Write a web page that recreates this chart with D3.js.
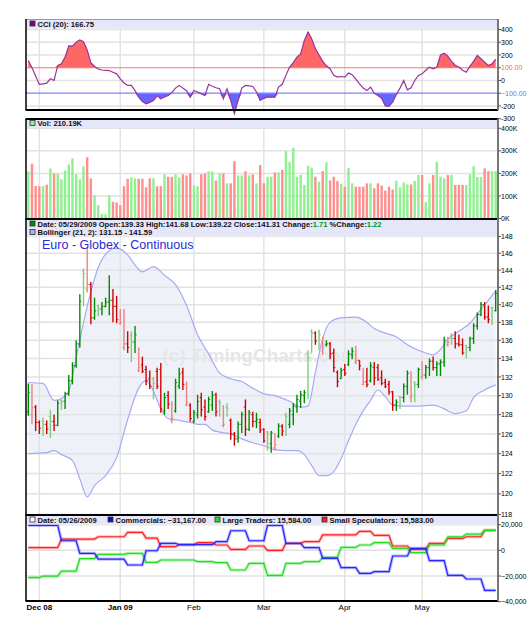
<!DOCTYPE html>
<html>
<head>
<meta charset="utf-8">
<script src="https://cdn.jsdelivr.net/npm/d3@7"></script>
<style>
body { margin: 0; background: #fff; }
svg { display: block; font-family: "Liberation Sans", Arial, sans-serif; }
</style>
</head>
<body>
<script>
// ---- data ----
var monthLabels = ['Dec 08', 'Jan 09', 'Feb', 'Mar', 'Apr', 'May'];
var monthIdx = [3, 25, 45, 64, 86, 107];
var lastDate = '05/29/2009', cotDate = '05/26/2009';

var opens = [128.3,128.0,128.8,127.2,127.3,127.0,127.8,127.3,126.9,129.5,129.4,130.2,131.6,133.2,135.6,143.9,141.8,142.3,138.5,139.9,
  139.5,139.8,140.3,140.5,139.8,137.9,135.2,135.6,136.5,135.8,132.7,133.3,132.8,131.8,131.8,132.6,132.8,128.4,130.0,127.4,
  128.4,131.0,132.5,129.0,129.0,127.3,128.0,129.8,128.8,128.3,129.0,130.1,129.4,126.9,128.8,127.4,126.0,125.5,127.0,128.8,
  126.5,128.0,127.3,127.2,126.5,126.2,125.0,124.6,125.8,126.8,128.0,127.0,128.0,128.8,129.4,130.0,134.5,137.0,136.8,136.9,
  134.8,135.5,135.6,134.6,132.5,131.8,132.8,133.3,134.4,133.6,133.8,131.2,131.5,131.6,133.0,133.0,131.9,131.4,131.2,130.4,
  129.0,129.9,129.8,131.0,129.8,131.4,131.2,132.0,132.2,133.0,133.7,133.0,133.4,133.6,135.5,136.5,136.2,135.6,135.5,135.4,
  135.2,136.2,137.6,138.9,140.0,138.6,139.65,139.33];
var highs = [131.3,131.2,129.0,127.4,127.7,127.4,128.5,128.0,129.5,129.6,130.4,132.2,133.6,136.0,141.2,144.2,146.7,142.6,140.8,140.0,
  140.3,140.8,143.4,141.8,141.0,139.5,139.5,137.0,137.0,137.6,135.2,134.2,133.2,132.7,132.0,133.0,133.5,130.3,130.5,129.4,
  131.8,133.0,133.0,131.5,129.2,128.5,130.1,130.3,129.6,129.9,130.5,130.3,129.6,129.0,129.2,127.6,126.2,127.3,128.3,129.6,
  128.5,128.3,128.2,127.6,126.6,126.3,126.3,126.1,127.1,127.0,128.2,128.7,129.2,130.1,130.5,130.6,134.9,137.2,137.0,137.2,
  136.4,136.0,135.8,135.1,132.7,133.0,133.4,134.9,135.2,135.4,133.8,133.0,133.0,133.6,133.6,133.4,132.7,131.8,131.6,130.5,
  129.6,130.0,131.3,132.7,132.6,131.5,133.0,133.7,133.3,134.0,134.2,133.7,133.9,136.4,136.4,136.8,137.0,136.6,136.2,135.5,
  136.4,137.9,139.1,140.3,140.3,139.9,139.8,141.68];
var lows = [127.9,127.0,126.3,126.0,125.8,126.0,125.6,126.3,126.8,128.5,128.6,130.0,131.2,133.0,135.2,139.8,141.4,137.8,138.3,138.7,
  138.8,139.7,138.8,138.0,137.9,137.7,134.9,134.6,133.6,134.6,132.5,132.4,131.1,130.7,129.6,130.7,128.2,128.0,128.6,127.1,
  128.2,130.7,130.6,128.9,127.3,127.1,127.6,127.8,127.4,128.2,128.4,127.8,127.8,126.7,127.8,125.4,124.8,125.1,126.1,125.8,
  126.3,126.7,126.6,126.1,125.1,124.3,124.1,124.3,125.6,125.8,125.8,126.6,126.9,128.2,128.7,129.2,129.6,134.6,135.5,134.9,
  134.4,135.3,133.9,132.5,130.9,131.8,132.1,133.2,133.9,133.4,132.7,131.1,130.9,131.4,131.1,131.6,131.1,130.8,130.1,128.4,
  128.4,128.6,129.3,130.1,129.3,129.3,130.8,131.7,131.8,132.1,132.7,132.1,132.1,133.1,135.3,135.5,135.1,135.3,134.4,134.0,
  134.8,135.6,137.2,138.7,138.3,137.9,137.7,139.22];
var closes = [130.3,128.7,127.2,126.6,127.0,126.5,127.3,126.9,129.2,129.4,130.2,131.6,133.2,135.6,140.4,143.6,142.3,138.5,139.3,139.5,
  139.8,140.3,140.5,139.8,138.3,138.0,135.6,135.2,135.8,136.6,133.0,132.6,131.6,131.0,131.3,131.0,128.6,129.8,129.1,127.6,
  131.4,132.3,131.2,129.3,127.6,128.2,129.4,128.5,127.8,129.6,130.0,128.3,129.2,127.0,128.6,126.0,125.5,127.0,128.0,126.5,
  128.2,127.3,127.5,126.4,125.3,126.0,126.1,124.9,126.8,126.3,127.8,128.4,128.9,129.6,130.1,130.3,134.0,136.8,135.9,136.6,
  135.2,135.6,134.5,133.0,131.5,132.7,132.4,134.5,134.8,133.8,133.2,131.4,131.2,133.2,131.9,131.7,131.3,131.0,130.4,129.0,
  129.3,129.8,131.0,132.4,130.0,131.2,132.8,132.2,133.0,133.7,133.0,133.4,133.6,136.0,135.8,136.2,135.6,135.5,134.6,135.2,
  136.2,137.6,138.9,140.0,138.6,138.3,139.60,141.31];

var volumes = [209,243,144,143,143,150,222,200,200,174,213,240,266,196,174,231,272,178,103,59,
  21,19,103,74,71,59,143,176,182,178,176,176,138,178,178,143,143,196,185,185,
  196,182,196,191,200,147,143,196,200,209,209,168,200,200,156,156,254,191,191,210,
  191,196,156,237,156,185,185,204,204,216,299,251,313,185,193,149,234,226,185,163,
  210,249,169,185,166,154,141,225,156,141,141,141,156,156,134,156,146,124,141,129,
  168,138,160,151,151,166,193,193,72,156,193,251,185,178,193,193,149,149,149,149,
  196,232,184,184,222,210,210,210.19];

var cci = [157,100,35,-31,-26,-21,13,0,118,131,183,272,270,301,319,305,240,140,110,90,
  82,80,78,65,52,13,-20,-39,-39,-80,-131,-165,-183,-172,-157,-120,-144,-130,-118,-95,
  -60,-39,-60,-80,-131,-78,-90,-105,-118,-30,-45,-57,-65,-144,-65,-157,-261,-157,-60,-39,
  -42,-47,-90,-157,-140,-131,-131,-131,-52,-30,40,105,140,183,209,314,379,327,250,200,
  150,115,90,40,26,31,26,58,45,10,-26,-60,-78,-52,-100,-118,-140,-200,-204,-170,
  -110,-60,0,-73,-57,0,39,52,80,105,92,105,200,214,190,150,120,105,80,65,
  110,150,196,170,144,118,130,166.75];

var bbIdx = [0,4,7,9,11,13,16,19,22,24,27,29,31,34,37,40,43,46,49,52,55,58,61,64,67,71,74,76,78,80,82,85,89,92,94,97,100,103,106,108,110,112,114,117,120,123,125,127];
var bbUpper = [131.4,131.3,129.5,129.7,130.5,134.1,139.8,144.3,146.3,146.6,145.8,144.6,143.8,144.4,143.4,142.3,139.9,136.6,134.5,132.4,131.8,131.5,130.8,130.2,130.0,129.4,128.8,128.9,132.5,136.2,138.0,138.5,138.6,138.0,137.3,136.8,136.4,135.5,134.9,134.6,134.4,135.0,136.1,137.0,137.9,139.5,140.5,141.59];
var bbLowIdx = [0,5,7,9,12,14,16,18,21,24,27,30,32,34,36,38,41,44,46,48,50,52,55,58,61,64,67,70,73,75,77,79,81,83,85,87,89,91,93,95,97,99,102,106,110,113,116,119,121,124,127];
var bbLower = [124.0,124.1,124.3,123.9,123.3,121.5,119.7,120.8,121.8,123.6,127.5,130.8,131.6,130.5,128.6,127.6,127.4,127.2,127.0,127.0,126.4,126.2,126.0,125.5,125.1,124.8,124.4,124.3,124.3,123.9,122.8,121.8,121.8,122.2,123.5,125.3,127.0,128.4,129.5,130.6,129.9,129.0,128.9,128.9,129.0,128.6,128.1,128.4,129.8,130.6,131.15];

// weekly COT report positions (bar index of each report) and values
var cotIdx = [0,4,9,14,19,23,27,32,36,41,46,51,55,60,65,70,75,80,85,90,94,99,104,109,114,119,124];
var commercials = [19500,19500,7500,-2300,-6800,-6800,-11400,-300,5500,4400,4400,6750,15300,7500,19500,5500,2100,-6200,-13500,-17900,-16600,-4400,1600,-8000,-19500,-22300,-31167];
var largeTraders = [-21300,-20000,-16100,-6500,-3100,-3100,-2300,-9300,-7500,-7500,-8800,-9600,-15300,-10100,-19500,-10100,-8800,-5500,2300,4200,6000,1600,-1800,4200,10600,12700,15584];
var smallSpecs = [2100,2100,8800,8800,10600,10600,14000,9600,2900,4400,6000,4200,800,3400,0,5500,6750,12000,12000,14800,11700,3400,800,5500,9300,10600,15583];

var cciTicks = [400, 300, 200, 100, 0, -100, -200, -300];
var volTicks = [0, 100, 200, 300, 400];
var priceTicks = d3.range(118, 149, 2);
var cotTicks = [20000, 0, -20000, -40000];

// ---- layout ----
var W = 527, H = 625;
var left = 26, right = 498;
var n = closes.length;
var upDark = '#008a00', upLight = '#7fcc7f', dnDark = '#d00000', dnLight = '#ee8080';
var bandBg = '#e6e6fa', gridC = '#e2e2e2';

var svg = d3.select('body').append('svg')
  .attr('width', W)
  .attr('height', H);

var x = d3.scaleLinear().domain([0, n - 1]).range([28.3, 495.7]);
var yCci = d3.scaleLinear().domain([-300, 400]).range([118.7, 29.5]);
var yVol = d3.scaleLinear().domain([0, 400]).range([218.5, 128.3]);
var yPx = d3.scaleLog().domain([118, 148]).range([514.5, 236.5]);
var yCot = d3.scaleLinear().domain([-40000, 20000]).range([601.7, 524.7]);

var panels = [
  {name: 'cci', top: 19, bottom: 110, head: 9.5},
  {name: 'vol', top: 119, bottom: 219, head: 9},
  {name: 'price', top: 219, bottom: 515, head: 17.5},
  {name: 'cot', top: 515, bottom: 601, head: 9.5}
];

var defs = svg.append('defs');
panels.forEach(function(p) {
  defs.append('clipPath').attr('id', 'clip-' + p.name)
    .append('rect')
    .attr('x', left).attr('y', p.top + p.head)
    .attr('width', right - left)
    .attr('height', (p.name === 'cci' ? 120 : p.bottom) - p.top - p.head);
});

function up(i) { return i === 0 ? closes[i] >= opens[i] : closes[i] >= closes[i - 1]; }

// ---- Bollinger band fill (under the grid) ----
var gB = svg.append('g').attr('clip-path', 'url(#clip-price)');
var upperPts = bbIdx.map(function(d, k) { return [d, bbUpper[k]]; });
var lowerPts = bbLowIdx.map(function(d, k) { return [d, bbLower[k]]; });
var bandArea = d3.area()
  .x(function(d) { return x(d[0]); })
  .y0(516)
  .y1(function(d) { return yPx(d[1]); })
  .curve(d3.curveMonotoneX);
gB.append('path').datum(upperPts).attr('d', bandArea).attr('fill', '#eef2f8');
gB.append('path').datum(lowerPts).attr('d', bandArea).attr('fill', '#fff');

// header bands + vertical grid
panels.forEach(function(p) {
  svg.append('rect')
    .attr('x', left).attr('y', p.top)
    .attr('width', right - left).attr('height', p.head)
    .attr('fill', bandBg);
  svg.append('g').selectAll('line')
    .data(monthIdx)
    .enter().append('line')
    .attr('x1', function(d) { return x(d); })
    .attr('x2', function(d) { return x(d); })
    .attr('y1', p.top + p.head)
    .attr('y2', p.bottom)
    .attr('stroke', gridC)
    .attr('stroke-width', 1.5);
});

// ---- CCI panel ----
var gC = svg.append('g').attr('clip-path', 'url(#clip-cci)');
gC.selectAll('line.h')
  .data(cciTicks.filter(function(d) { return d !== 100 && d !== -100; }))
  .enter().append('line')
  .attr('x1', left).attr('x2', right)
  .attr('y1', yCci).attr('y2', yCci)
  .attr('stroke', gridC).attr('stroke-width', 1.5);

gC.append('path')
  .datum(cci)
  .attr('fill', '#ff6666')
  .attr('d', d3.area()
    .x(function(d, i) { return x(i); })
    .y0(yCci(100))
    .y1(function(d) { return yCci(Math.max(d, 100)); }));
gC.append('path')
  .datum(cci)
  .attr('fill', '#6666ff')
  .attr('d', d3.area()
    .x(function(d, i) { return x(i); })
    .y0(yCci(-100))
    .y1(function(d) { return yCci(Math.min(d, -100)); }));

gC.append('line')
  .attr('x1', left).attr('x2', right)
  .attr('y1', yCci(100)).attr('y2', yCci(100))
  .attr('stroke', '#ff7070').attr('stroke-width', 1.2);
gC.append('line')
  .attr('x1', left).attr('x2', right)
  .attr('y1', yCci(-100)).attr('y2', yCci(-100))
  .attr('stroke', '#8080ff').attr('stroke-width', 1.2);

gC.append('path')
  .datum(cci)
  .attr('fill', 'none')
  .attr('stroke', '#993399')
  .attr('stroke-width', 1.2)
  .attr('d', d3.line().x(function(d, i) { return x(i); }).y(yCci));

// ---- volume panel ----
var gV = svg.append('g').attr('clip-path', 'url(#clip-vol)');
gV.selectAll('line.h')
  .data(volTicks)
  .enter().append('line')
  .attr('x1', left).attr('x2', right)
  .attr('y1', yVol).attr('y2', yVol)
  .attr('stroke', gridC).attr('stroke-width', 1.5);
gV.selectAll('rect.v')
  .data(volumes)
  .enter().append('rect')
  .attr('x', function(d, i) { return x(i) - 1.2; })
  .attr('width', 2.4)
  .attr('y', function(d) { return yVol(d); })
  .attr('height', function(d) { return yVol(0) - yVol(d); })
  .attr('fill', function(d, i) { return up(i) ? '#8ff08f' : '#ff8f8f'; });

// ---- price panel ----
var gP = svg.append('g').attr('clip-path', 'url(#clip-price)');
gP.selectAll('line.h')
  .data(priceTicks)
  .enter().append('line')
  .attr('x1', left).attr('x2', right)
  .attr('y1', yPx).attr('y2', yPx)
  .attr('stroke', gridC).attr('stroke-width', 1.5);

gP.append('text')
  .attr('x', 260).attr('y', 362)
  .attr('text-anchor', 'middle')
  .attr('font-size', 19)
  .attr('font-weight', 'bold')
  .attr('fill', '#e6e6e6')
  .text('(c) TimingCharts.com');

var bandLine = d3.line().x(function(d) { return x(d[0]); }).y(function(d) { return yPx(d[1]); }).curve(d3.curveMonotoneX);
gP.append('path').datum(upperPts).attr('d', bandLine).attr('fill', 'none').attr('stroke', '#a8a8f4').attr('stroke-width', 1.2);
gP.append('path').datum(lowerPts).attr('d', bandLine).attr('fill', 'none').attr('stroke', '#a8a8f4').attr('stroke-width', 1.2);

var bars = gP.selectAll('g.bar')
  .data(closes)
  .enter().append('g')
  .attr('stroke', function(d, i) {
    var u = up(i), body = closes[i] >= opens[i];
    if (u) return body ? upDark : upLight;
    return body ? dnLight : dnDark;
  })
  .attr('stroke-width', 1.4);
bars.append('line')
  .attr('x1', function(d, i) { return x(i); })
  .attr('x2', function(d, i) { return x(i); })
  .attr('y1', function(d, i) { return yPx(highs[i]); })
  .attr('y2', function(d, i) { return yPx(lows[i]); });
bars.append('line')
  .attr('x1', function(d, i) { return x(i) - 1.6; })
  .attr('x2', function(d, i) { return x(i); })
  .attr('y1', function(d, i) { return yPx(opens[i]); })
  .attr('y2', function(d, i) { return yPx(opens[i]); })
  .attr('stroke-width', 1);
bars.append('line')
  .attr('x1', function(d, i) { return x(i); })
  .attr('x2', function(d, i) { return x(i) + 1.6; })
  .attr('y1', function(d, i) { return yPx(closes[i]); })
  .attr('y2', function(d, i) { return yPx(closes[i]); })
  .attr('stroke-width', 1);

svg.append('text')
  .attr('x', 42).attr('y', 248.5)
  .attr('font-size', 12.5)
  .attr('fill', '#2a2ad0')
  .text('Euro - Globex - Continuous');

// ---- COT panel ----
var gT = svg.append('g').attr('clip-path', 'url(#clip-cot)');
gT.selectAll('line.h')
  .data(cotTicks)
  .enter().append('line')
  .attr('x1', left).attr('x2', right)
  .attr('y1', yCot).attr('y2', yCot)
  .attr('stroke', gridC).attr('stroke-width', 1.5);

function stepPts(vals) {
  var pts = [];
  cotIdx.forEach(function(s, k) {
    var e = k < cotIdx.length - 1 ? cotIdx[k + 1] - 1 : n - 1;
    pts.push([s, vals[k]]);
    pts.push([e, vals[k]]);
  });
  return pts;
}
var cotLine = d3.line().x(function(d) { return x(d[0]); }).y(function(d) { return yCot(d[1]); });
[[smallSpecs, '#ff2020'], [largeTraders, '#22dd22'], [commercials, '#2525ff']].forEach(function(s) {
  var pts = stepPts(s[0]);
  gT.append('path').attr('d', cotLine(pts)).attr('fill', 'none')
    .attr('stroke', s[1]).attr('stroke-opacity', 0.3).attr('stroke-width', 3.2);
  gT.append('path').attr('d', cotLine(pts)).attr('fill', 'none')
    .attr('stroke', s[1]).attr('stroke-width', 1.2);
});

// ---- frames ----
svg.append('line').attr('x1', left).attr('x2', right).attr('y1', 19.5).attr('y2', 19.5).attr('stroke', '#999');
[110, 119, 219, 515, 601].forEach(function(y) {
  svg.append('line').attr('x1', left - 0.5).attr('x2', right).attr('y1', y).attr('y2', y)
    .attr('stroke', '#000').attr('stroke-width', 2);
});
[[19, 110], [119, 601]].forEach(function(r) {
  svg.append('line').attr('x1', left).attr('x2', left).attr('y1', r[0]).attr('y2', r[1])
    .attr('stroke', '#000').attr('stroke-width', 1.5);
  svg.append('line').attr('x1', right).attr('x2', right).attr('y1', r[0]).attr('y2', r[1])
    .attr('stroke', '#777').attr('stroke-width', 2);
});

// ---- right axes ----
function rightAxis(scale, ticks, fmt, colorFn) {
  var g = svg.append('g').attr('font-size', 7);
  ticks.forEach(function(t) {
    var y = scale(t);
    g.append('line').attr('x1', right).attr('x2', right + 3).attr('y1', y).attr('y2', y)
      .attr('stroke', '#555');
    g.append('text').attr('x', right + 3).attr('y', y + 2.6)
      .attr('fill', colorFn ? colorFn(t) : '#000')
      .text(fmt(t));
  });
}
rightAxis(yCci, cciTicks, function(t) { return Math.abs(t) === 100 ? d3.format('.2f')(t) : t; },
  function(t) { return t === 100 ? '#ff6060' : t === -100 ? '#7070ff' : '#000'; });
rightAxis(yVol, volTicks, function(t) { return t + 'K'; });
rightAxis(yPx, priceTicks, function(t) { return t; });
rightAxis(yCot, cotTicks, d3.format(','));

// x axis labels
svg.append('g').selectAll('text')
  .data(monthLabels)
  .enter().append('text')
  .attr('x', function(d, i) { return x(monthIdx[i]); })
  .attr('y', 610)
  .attr('text-anchor', 'middle')
  .attr('font-size', 8)
  .attr('font-weight', function(d) { return d.indexOf(' ') > 0 ? 'bold' : 'normal'; })
  .text(function(d) { return d; });

// ---- header legends ----
var f2 = d3.format('.2f'), fc = d3.format(',.2f');
function legend(xp, y, fill, stroke, parts) {
  svg.append('rect').attr('x', xp).attr('y', y - 5.5).attr('width', 5).attr('height', 5)
    .attr('fill', fill).attr('stroke', stroke).attr('stroke-width', 0.8);
  var t = svg.append('text').attr('x', xp + 7.5).attr('y', y)
    .attr('font-size', 7.6).attr('font-weight', 'bold');
  parts.forEach(function(p) {
    t.append('tspan').attr('fill', p[1] || '#111').text(p[0]);
  });
}
var last = n - 1;
var chg = closes[last] - closes[last - 1];
legend(30, 26.5, '#800080', '#333', [['CCI (20): ' + f2(cci[last])]]);
legend(30, 126, '#8ff08f', '#333', [['Vol: ' + f2(volumes[last]) + 'K']]);
legend(30, 226.5, '#008a00', '#333', [
  ['Date: ' + lastDate + '  Open:' + f2(opens[last]) + '  High:' + f2(highs[last]) +
   '  Low:' + f2(lows[last]) + '  Close:' + f2(closes[last]) + '  Change:'],
  [f2(chg), '#009900'], ['  %Change:'], [f2(chg / closes[last - 1] * 100), '#009900']]);
legend(30, 235, '#b0b0f0', '#333', [['Bollinger (21, 2): ' + f2(bbLower[bbLower.length - 1]) + ' - ' + f2(bbUpper[bbUpper.length - 1])]]);
legend(30, 522.5, '#fff', '#333', [['Date: ' + cotDate]]);
legend(108, 522.5, '#1010c0', '#333', [['Commercials: ' + fc(commercials[commercials.length - 1])]]);
legend(215, 522.5, '#22dd22', '#333', [['Large Traders: ' + fc(largeTraders[largeTraders.length - 1])]]);
legend(322, 522.5, '#ee2020', '#333', [['Small Speculators: ' + fc(smallSpecs[smallSpecs.length - 1])]]);
</script>
</body>
</html>
